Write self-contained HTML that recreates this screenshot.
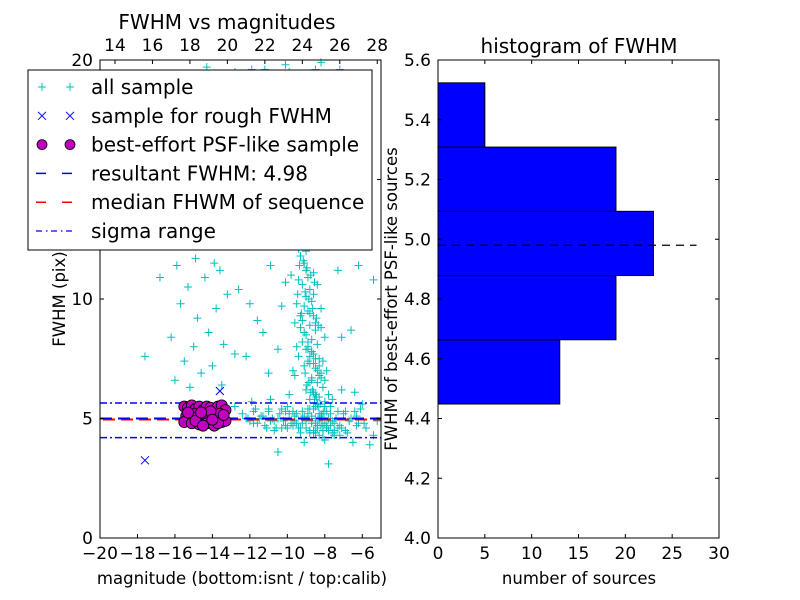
<!DOCTYPE html>
<html><head><meta charset="utf-8">
<style>
body{margin:0;background:#fff;}
svg{display:block;font-family:"DejaVu Sans","Liberation Sans",sans-serif;}
</style></head>
<body>
<svg id="chart" width="800" height="600" viewBox="0 0 800 600">
<rect width="800" height="600" fill="#fff"/>
<g id="left"></g>
<g id="right"></g>
</svg>
<script>
// ---- scatter data ----
const allMag = [-9.3,-9.1,-9.0,-8.9,-9.2,-8.8,-9.0,-8.7,-9.1,-8.9,-8.6,-9.2,-8.8,-8.5,-9.0,-8.7,-8.4,-8.9,-8.6,-8.3,-8.8,-8.5,-8.2,-8.7,-8.4,-8.1,-8.6,-8.3,-8.0,-8.5,-7.9,-8.2,-7.7,-8.4,-7.8,-7.5,-9.4,-9.5,-9.3,-9.4,-9.6,-8.2,-8.0,-7.9,-9.8,-8.6,-9.0,
-9.1,-8.9,-8.7,-8.5,-8.8,-9.0,-8.6,-8.4,-8.3,-8.7,-8.9,-8.5,-8.2,-8.1,-8.6,-8.8,-8.4,-8.0,-7.8,-8.3,-8.5,-8.7,-9.2,-9.0,
-9.15,-8.95,-8.75,-8.55,-9.05,-8.85,-8.65,-8.45,-9.25,-8.35,-9.1,-8.9,-8.7,-8.5,-8.3,-9.0,-8.8,-8.6,-8.4,-8.2,-9.2,-8.95,-8.75,-8.55,-8.35,-8.15,-9.05,-8.85,-8.65,-8.45,-8.25,-8.05,-8.9,-8.7,-8.5,-8.3,-8.1,-7.9,-8.8,-8.6,-8.4,-8.2,-8.0,-7.8,-7.6,-8.5,-8.3,-8.1,-7.9,-7.7,-7.5,-9.35,-9.45,-9.3,-9.5,-9.7,-9.6,-9.4,
-12.4,-12.0,-11.7,-11.5,-11.2,-11.0,-10.8,-10.6,-10.4,-10.2,-10.0,-9.8,-9.6,-9.4,-9.2,-9.0,-8.8,-7.4,-7.2,-7.0,-6.8,-6.6,-6.2,-5.8,-5.4,-6.0,-12.8,-11.9,-10.9,-9.9,-7.6,-7.1,-6.4,-5.2,-5.6,-7.8,-10.5,-9.1,-8.0,-6.5,
-11.8,-11.4,-10.7,-10.3,-9.7,-9.5,-9.3,-7.3,-6.9,-6.7,-6.3,-7.5,-7.7,-8.1,-8.6,-10.1,-11.1,-12.2,-5.9,-6.1,
-12.1,-11.6,-11.3,-10.9,-10.5,-10.1,-9.9,-9.5,-9.1,-8.7,-8.3,-7.9,-7.5,-7.1,-6.7,-6.3,-11.8,-11.0,-10.3,-9.7,-9.3,-8.9,-8.5,-8.1,-7.7,-7.3,-6.9,-10.7,-10.0,-9.6,-9.2,-8.8,-8.4,-8.0,-7.6,-7.2,
-17.6,-16.2,-16.0,-15.7,-15.5,-15.3,-15.0,-14.8,-14.6,-14.4,-14.2,-14.0,-13.8,-13.6,-13.4,-13.2,-15.9,-14.9,-13.9,-15.2,-13.5,-12.8,-12.2,-12.6,-11.6,-11.3,-10.9,-11.0,-10.5,-10.3,-10.1,-7.3,-6.2,-6.6,-5.4,-7.1,-6.4,-12.0,-16.8,
-14.3,-11.9,-11.2,-10.1,-9.9,-9.2,-8.5,-8.2,-7.2,-12.8];
const allFwhm = [11.8,11.5,11.2,10.9,10.6,10.4,10.1,9.9,9.7,9.5,9.3,9.1,8.9,8.7,8.5,8.3,8.1,7.9,7.7,7.5,7.3,7.1,6.9,6.7,6.5,6.3,6.1,5.9,5.7,5.5,5.3,5.1,4.9,4.7,4.5,4.3,10.8,9.8,8.8,7.6,6.8,9.6,8.4,7.0,11.0,11.1,12.0,
7.2,7.4,6.6,6.0,5.8,6.2,5.4,5.6,6.8,7.8,8.0,9.0,8.8,7.4,10.2,9.4,10.6,6.6,6.0,5.2,5.0,4.8,5.0,4.6,
11.6,11.3,11.0,10.7,10.3,10.0,9.6,9.2,9.4,8.9,8.6,8.2,7.8,7.5,7.2,7.9,7.6,7.3,7.0,6.7,8.2,6.4,6.1,5.8,5.5,5.2,6.9,6.5,6.2,5.9,5.6,5.3,5.4,5.1,4.8,4.9,4.7,4.6,4.4,4.5,4.6,4.7,4.8,5.0,4.9,4.4,4.3,4.5,4.6,4.7,4.4,11.4,10.2,9.3,8.0,7.0,9.0,12.1,
5.2,4.9,5.4,5.0,4.7,5.3,5.0,4.6,5.2,4.9,5.5,4.8,5.1,4.6,5.3,4.9,4.5,5.0,4.7,5.2,4.4,5.0,4.8,4.6,4.3,5.6,5.5,5.7,5.8,6.0,5.8,6.2,5.3,4.9,3.9,3.1,3.6,4.0,4.1,4.0,
4.8,5.1,4.5,5.4,4.7,5.2,4.4,4.6,5.3,4.9,5.1,4.5,5.5,4.2,4.4,5.3,4.6,5.0,4.8,5.4,
5.0,4.8,5.1,4.9,5.0,4.7,5.2,4.8,5.1,4.9,5.0,4.7,4.8,4.6,4.9,4.7,5.3,5.4,4.6,5.3,4.6,5.2,4.4,4.5,5.2,5.3,4.5,4.9,4.6,4.9,4.8,5.4,5.6,5.5,4.4,4.3,
7.6,8.4,6.6,9.8,7.4,10.5,8.0,9.2,6.9,10.9,8.6,7.2,9.6,11.2,8.1,10.2,11.4,11.7,11.5,6.3,6.4,7.7,7.6,10.4,9.1,8.6,11.4,6.9,7.9,9.7,10.7,11.2,11.4,8.7,10.8,8.4,6.1,9.8,10.9,
19.7,19.6,19.6,19.8,19.5,19.4,19.6,19.9,19.6,19.5];
const roughMag = [-17.6,-13.6];
const roughFwhm = [3.25,6.15];
const psfMag = [-15.5,-15.3,-15.1,-14.9,-14.7,-14.5,-14.3,-14.1,-13.9,-13.7,-13.5,-13.3,-15.4,-15.2,-15.0,-14.8,-14.6,-14.4,-14.2,-14.0,-13.8,-13.6,-13.4,-15.5,-15.1,-14.7,-14.3,-13.9,-13.5,-13.3,-15.3,-14.9,-14.5,-14.1,-13.7,-14.6,-14.0,-13.4];
const psfFwhm = [5.5,5.45,5.55,5.4,5.5,5.35,5.5,5.45,5.3,5.5,5.55,5.35,5.1,5.0,5.2,5.05,4.95,5.15,5.0,5.1,4.9,5.2,5.0,4.85,4.8,4.75,4.8,4.7,4.85,4.9,5.25,4.9,4.7,5.3,4.8,5.25,4.95,5.15];
const resultFwhm = 4.98;
const sigmaRange = [4.2, 5.65];
const bottomTicks = [-20,-18,-16,-14,-12,-10,-8,-6];
const topTicks = [14,16,18,20,22,24,26,28];
const leftYTicks = [0,5,10,15,20];
// ---- histogram data ----
const binStart = 4.4485;
const binWidth = 0.215;
const binCounts = [13,19,23,19,5];
const histXTicks = [0,5,10,15,20,25,30];
const histYTicks = ['4.0','4.2','4.4','4.6','4.8','5.0','5.2','5.4','5.6'];

const NS='http://www.w3.org/2000/svg';
function mk(parent,tag,attrs,text){const e=document.createElementNS(NS,tag);for(const k in attrs)e.setAttribute(k,attrs[k]);if(text!==undefined)e.textContent=text;parent.appendChild(e);return e;}
const TF=17, LF=16.5;

const L={x0:100,x1:381,y0:60,y1:538};
const lx=v=>L.x0+(v+20)*(L.x1-L.x0)/15;
const ly=v=>L.y1-v*(L.y1-L.y0)/20;
const tx=v=>lx(v-33.2);
const gl=document.getElementById('left');

// all sample
for(let i=0;i<allMag.length;i++){
 const x=lx(allMag[i]),y=ly(allFwhm[i]);
 if(x<L.x0||x>L.x1||y<L.y0||y>L.y1) continue;
 const p=mk(gl,'path',{d:`M${x-4},${y}H${x+4}M${x},${y-4}V${y+4}`,stroke:'#00bfbf','stroke-width':1});
 
 
}
sigmaRange.forEach(s=>{
 const e=mk(gl,'line',{x1:L.x0,x2:L.x1,y1:ly(s),y2:ly(s),stroke:'#0000ff','stroke-width':1.5,'stroke-dasharray':'7,3,2,3'});
 
 
});
let e=mk(gl,'line',{x1:L.x0,x2:L.x1,y1:ly(resultFwhm)+0.5,y2:ly(resultFwhm)+0.5,stroke:'#ff0000','stroke-width':2,'stroke-dasharray':'12,6','stroke-dashoffset':'-3'});


e=mk(gl,'line',{x1:L.x0,x2:L.x1,y1:ly(resultFwhm)-0.5,y2:ly(resultFwhm)-0.5,stroke:'#0000ff','stroke-width':2,'stroke-dasharray':'12,6'});


for(let i=0;i<psfMag.length;i++){
 const c=mk(gl,'circle',{cx:lx(psfMag[i]),cy:ly(psfFwhm[i]),r:5.5,fill:'#bf00bf',stroke:'#000','stroke-width':0.8});
 
 
}
for(let i=0;i<roughMag.length;i++){
 const x=lx(roughMag[i]),y=ly(roughFwhm[i]);
 const p=mk(gl,'path',{d:`M${x-4},${y-4}L${x+4},${y+4}M${x-4},${y+4}L${x+4},${y-4}`,stroke:'#0000ff','stroke-width':1});
 
 
}
e=mk(gl,'rect',{x:L.x0,y:L.y0,width:L.x1-L.x0,height:L.y1-L.y0,fill:'none',stroke:'#000','stroke-width':1});


bottomTicks.forEach(v=>{
 const x=lx(v);
 mk(gl,'path',{d:`M${x},${L.y1}v-4`,stroke:'#000'});
 const t=mk(gl,'text',{x:x,y:559,'font-size':TF,'text-anchor':'middle'},(v<0?'\u2212':'')+Math.abs(v));
 
 
});
topTicks.forEach(v=>{
 const x=tx(v);
 mk(gl,'path',{d:`M${x},${L.y0}v4`,stroke:'#000'});
 const t=mk(gl,'text',{x:x,y:51,'font-size':TF,'text-anchor':'middle'},String(v));
 
 
});
leftYTicks.forEach(v=>{
 const y=ly(v);
 mk(gl,'path',{d:`M${L.x0},${y}h4M${L.x1},${y}h-4`,stroke:'#000'});
 const t=mk(gl,'text',{x:93,y:y+6,'font-size':TF,'text-anchor':'end'},String(v));
 
 
});
e=mk(gl,'text',{x:227,y:29,'font-size':20,'text-anchor':'middle'},'FWHM vs magnitudes');


e=mk(gl,'text',{x:242,y:584,'font-size':LF,'text-anchor':'middle'},'magnitude (bottom:isnt / top:calib)');


e=mk(gl,'text',{x:0,y:0,'font-size':LF,'text-anchor':'middle',transform:'translate(65,299) rotate(-90)'},'FWHM (pix)');



const lg=mk(gl,'g',{});


mk(lg,'rect',{x:28,y:70,width:344,height:180,fill:'#fff',stroke:'#000','stroke-width':1});
const labels=['all sample','sample for rough FWHM','best-effort PSF-like sample','resultant FWHM: 4.98','median FHWM of sequence','sigma range'];
labels.forEach((lab,i)=>{
 const y=87+i*28.8;
 const g=mk(lg,'g',{});
 
 
 [42,70].forEach(x=>{
  if(i==0) mk(g,'path',{d:`M${x-4},${y}H${x+4}M${x},${y-4}V${y+4}`,stroke:'#00bfbf'});
  if(i==1) mk(g,'path',{d:`M${x-4},${y-4}L${x+4},${y+4}M${x-4},${y+4}L${x+4},${y-4}`,stroke:'#0000ff'});
  if(i==2) mk(g,'circle',{cx:x,cy:y,r:5,fill:'#bf00bf',stroke:'#000','stroke-width':0.8});
 });
 if(i==3) mk(g,'path',{d:`M36,${y}h10M62,${y}h10`,stroke:'#0000ff','stroke-width':1.5});
 if(i==4) mk(g,'path',{d:`M36,${y}h10M62,${y}h10`,stroke:'#ff0000','stroke-width':1.5});
 if(i==5) mk(g,'path',{d:`M36,${y}h6M46,${y}h1.5M51,${y}h6M61,${y}h1.5M66,${y}h6`,stroke:'#0000ff','stroke-width':1.3});
 mk(g,'text',{x:91,y:y+7,'font-size':20},lab);
});

const R={x0:438,x1:719,y0:60,y1:538};
const rx=v=>R.x0+v*(R.x1-R.x0)/30;
const ry=v=>R.y1-(v-4.0)*(R.y1-R.y0)/1.6;
const gr=document.getElementById('right');
binCounts.forEach((c,i)=>{
 const lo=binStart+i*binWidth,hi=lo+binWidth;
 const r=mk(gr,'rect',{x:rx(0),y:ry(hi),width:rx(c)-rx(0),height:ry(lo)-ry(hi),fill:'#0000ff',stroke:'#000','stroke-width':1});
 
 
});
e=mk(gr,'line',{x1:rx(0),x2:rx(27.6),y1:ry(resultFwhm),y2:ry(resultFwhm),stroke:'#000','stroke-width':1.3,'stroke-dasharray':'8,6'});


e=mk(gr,'rect',{x:R.x0,y:R.y0,width:R.x1-R.x0,height:R.y1-R.y0,fill:'none',stroke:'#000'});


histXTicks.forEach(v=>{
 const x=rx(v);
 mk(gr,'path',{d:`M${x},${R.y1}v-4M${x},${R.y0}v4`,stroke:'#000'});
 const t=mk(gr,'text',{x:x,y:559,'font-size':TF,'text-anchor':'middle'},String(v));
 
 
});
histYTicks.forEach(s=>{
 const y=ry(parseFloat(s));
 mk(gr,'path',{d:`M${R.x0},${y}h4M${R.x1},${y}h-4`,stroke:'#000'});
 const t=mk(gr,'text',{x:431,y:y+6,'font-size':TF,'text-anchor':'end'},s);
 
 
});
e=mk(gr,'text',{x:579,y:53,'font-size':20,'text-anchor':'middle'},'histogram of FWHM');


e=mk(gr,'text',{x:579,y:584,'font-size':LF,'text-anchor':'middle'},'number of sources');


e=mk(gr,'text',{x:0,y:0,'font-size':LF,'text-anchor':'middle',transform:'translate(397,299) rotate(-90)'},'FWHM of best-effort PSF-like sources');


</script>
</body></html>
